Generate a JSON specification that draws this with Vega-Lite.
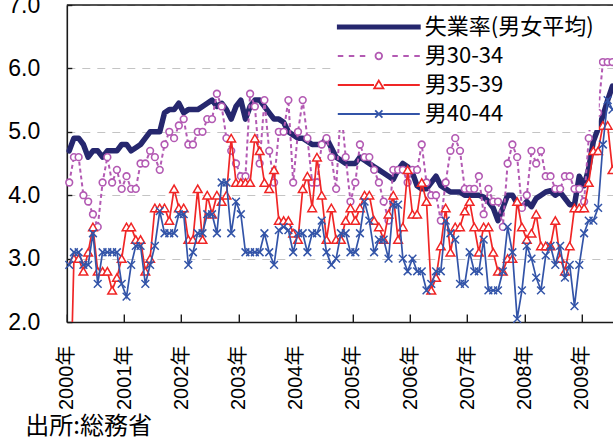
{
  "$schema": "https://vega.github.io/schema/vega-lite/v6.json",
  "width": 546.2,
  "height": 317,
  "autosize": {"type": "none"},
  "padding": {"left": 66.8, "top": 5, "right": 0, "bottom": 118},
  "background": "white",
  "title": {
    "text": "（図表）年代別の失業率の推移（男性）",
    "font": "Noto Sans CJK JP",
    "fontSize": 27,
    "fontWeight": "normal",
    "color": "black",
    "anchor": "middle",
    "frame": "group",
    "dx": 12,
    "offset": -18,
    "baseline": "alphabetic"
  },
  "config": {
    "view": {"stroke": null},
    "axis": {"domainColor": "#1a1a1a", "domainWidth": 1.6, "tickColor": "#1a1a1a", "tickWidth": 1.4, "labelColor": "black"}
  },
  "data": {
    "values": [
      {"d":"2000-01","u":4.7,"a":4.2,"b":0,"c":2.9},
      {"d":"2000-02","u":4.9,"a":4.6,"b":3.0,"c":3.1},
      {"d":"2000-03","u":4.9,"a":4.6,"b":3.0,"c":3.1},
      {"d":"2000-04","u":4.8,"a":4.0,"b":2.8,"c":2.9},
      {"d":"2000-05","u":4.6,"a":3.9,"b":3.1,"c":2.9},
      {"d":"2000-06","u":4.7,"a":3.7,"b":3.5,"c":3.4},
      {"d":"2000-07","u":4.7,"a":3.5,"b":2.8,"c":2.6},
      {"d":"2000-08","u":4.6,"a":4.2,"b":2.8,"c":3.1},
      {"d":"2000-09","u":4.7,"a":4.6,"b":2.8,"c":3.1},
      {"d":"2000-10","u":4.7,"a":4.2,"b":2.5,"c":3.1},
      {"d":"2000-11","u":4.7,"a":4.4,"b":2.7,"c":3.1},
      {"d":"2000-12","u":4.8,"a":4.1,"b":3.0,"c":2.6},
      {"d":"2001-01","u":4.8,"a":4.3,"b":3.5,"c":2.4},
      {"d":"2001-02","u":4.7,"a":4.1,"b":3.5,"c":2.9},
      {"d":"2001-03","u":4.75,"a":4.1,"b":3.3,"c":3.2},
      {"d":"2001-04","u":4.8,"a":4.5,"b":3.3,"c":3.2},
      {"d":"2001-05","u":4.9,"a":4.5,"b":2.8,"c":2.6},
      {"d":"2001-06","u":5.0,"a":4.7,"b":3.0,"c":2.9},
      {"d":"2001-07","u":5.0,"a":4.6,"b":3.8,"c":3.2},
      {"d":"2001-08","u":5.0,"a":4.4,"b":3.8,"c":3.75},
      {"d":"2001-09","u":5.3,"a":4.8,"b":3.8,"c":3.4},
      {"d":"2001-10","u":5.35,"a":5.0,"b":3.6,"c":3.4},
      {"d":"2001-11","u":5.35,"a":4.9,"b":4.1,"c":3.4},
      {"d":"2001-12","u":5.45,"a":5.1,"b":3.8,"c":3.7},
      {"d":"2002-01","u":5.3,"a":5.2,"b":3.8,"c":3.7},
      {"d":"2002-02","u":5.35,"a":4.8,"b":3.3,"c":2.9},
      {"d":"2002-03","u":5.35,"a":4.8,"b":3.3,"c":3.1},
      {"d":"2002-04","u":5.35,"a":5.0,"b":4.1,"c":3.4},
      {"d":"2002-05","u":5.4,"a":5.0,"b":3.3,"c":3.4},
      {"d":"2002-06","u":5.45,"a":5.2,"b":4.0,"c":3.7},
      {"d":"2002-07","u":5.5,"a":5.2,"b":3.7,"c":3.7},
      {"d":"2002-08","u":5.4,"a":5.6,"b":4.0,"c":3.4},
      {"d":"2002-09","u":5.45,"a":5.4,"b":3.9,"c":4.2},
      {"d":"2002-10","u":5.35,"a":4.9,"b":4.0,"c":4.2},
      {"d":"2002-11","u":5.2,"a":4.7,"b":4.9,"c":3.4},
      {"d":"2002-12","u":5.4,"a":4.5,"b":4.2,"c":3.9},
      {"d":"2003-01","u":5.5,"a":4.3,"b":4.2,"c":3.7},
      {"d":"2003-02","u":5.2,"a":4.3,"b":4.2,"c":3.1},
      {"d":"2003-03","u":5.4,"a":5.6,"b":4.2,"c":3.1},
      {"d":"2003-04","u":5.5,"a":5.4,"b":4.9,"c":3.1},
      {"d":"2003-05","u":5.5,"a":4.5,"b":4.7,"c":3.1},
      {"d":"2003-06","u":5.4,"a":5.5,"b":4.2,"c":3.4},
      {"d":"2003-07","u":5.3,"a":4.7,"b":4.1,"c":3.1},
      {"d":"2003-08","u":5.2,"a":4.2,"b":4.4,"c":2.9},
      {"d":"2003-09","u":5.2,"a":5.0,"b":3.6,"c":3.45},
      {"d":"2003-10","u":5.15,"a":5.0,"b":3.6,"c":3.5},
      {"d":"2003-11","u":5.0,"a":5.5,"b":3.6,"c":3.45},
      {"d":"2003-12","u":4.95,"a":4.2,"b":3.4,"c":3.1},
      {"d":"2004-01","u":4.9,"a":5.0,"b":3.3,"c":3.4},
      {"d":"2004-02","u":4.9,"a":5.5,"b":4.1,"c":3.4},
      {"d":"2004-03","u":4.85,"a":4.9,"b":4.3,"c":3.1},
      {"d":"2004-04","u":4.8,"a":4.2,"b":3.8,"c":3.4},
      {"d":"2004-05","u":4.8,"a":4.2,"b":4.6,"c":3.4},
      {"d":"2004-06","u":4.8,"a":4.8,"b":4.0,"c":3.6},
      {"d":"2004-07","u":4.9,"a":4.9,"b":3.3,"c":3.1},
      {"d":"2004-08","u":4.75,"a":4.6,"b":3.8,"c":2.9},
      {"d":"2004-09","u":4.6,"a":4.1,"b":3.3,"c":3.0},
      {"d":"2004-10","u":4.55,"a":5.4,"b":3.3,"c":3.4},
      {"d":"2004-11","u":4.5,"a":4.6,"b":3.6,"c":3.4},
      {"d":"2004-12","u":4.5,"a":3.9,"b":3.8,"c":3.1},
      {"d":"2005-01","u":4.5,"a":4.2,"b":3.6,"c":3.1},
      {"d":"2005-02","u":4.6,"a":4.8,"b":3.8,"c":3.4},
      {"d":"2005-03","u":4.55,"a":4.6,"b":4.0,"c":3.9},
      {"d":"2005-04","u":4.5,"a":4.6,"b":4.0,"c":3.6},
      {"d":"2005-05","u":4.45,"a":4.4,"b":3.6,"c":3.1},
      {"d":"2005-06","u":4.4,"a":4.2,"b":3.5,"c":3.3},
      {"d":"2005-07","u":4.35,"a":3.9,"b":3.3,"c":3.3},
      {"d":"2005-08","u":4.3,"a":3.6,"b":3.7,"c":3.0},
      {"d":"2005-09","u":4.25,"a":4.4,"b":4.0,"c":3.85},
      {"d":"2005-10","u":4.4,"a":4.4,"b":3.3,"c":3.85},
      {"d":"2005-11","u":4.5,"a":4.4,"b":3.5,"c":3.0},
      {"d":"2005-12","u":4.45,"a":4.2,"b":4.4,"c":2.8},
      {"d":"2006-01","u":4.35,"a":4.4,"b":3.7,"c":3.0},
      {"d":"2006-02","u":4.15,"a":4.4,"b":3.7,"c":2.8},
      {"d":"2006-03","u":4.1,"a":4.8,"b":4.2,"c":2.8},
      {"d":"2006-04","u":4.1,"a":4.2,"b":3.9,"c":2.5},
      {"d":"2006-05","u":4.2,"a":4.0,"b":2.5,"c":2.6},
      {"d":"2006-06","u":4.3,"a":4.0,"b":2.7,"c":2.8},
      {"d":"2006-07","u":4.15,"a":3.6,"b":3.2,"c":2.8},
      {"d":"2006-08","u":4.1,"a":4.2,"b":3.8,"c":3.6},
      {"d":"2006-09","u":4.05,"a":4.7,"b":3.1,"c":3.4},
      {"d":"2006-10","u":4.05,"a":4.9,"b":3.5,"c":3.3},
      {"d":"2006-11","u":4.05,"a":4.7,"b":3.5,"c":2.6},
      {"d":"2006-12","u":4.0,"a":4.1,"b":3.75,"c":2.6},
      {"d":"2007-01","u":4.0,"a":4.1,"b":3.9,"c":3.1},
      {"d":"2007-02","u":4.0,"a":4.1,"b":3.5,"c":2.8},
      {"d":"2007-03","u":4.0,"a":4.3,"b":3.1,"c":2.8},
      {"d":"2007-04","u":3.97,"a":3.7,"b":3.5,"c":3.3},
      {"d":"2007-05","u":3.9,"a":4.1,"b":3.5,"c":2.5},
      {"d":"2007-06","u":3.8,"a":3.9,"b":3.1,"c":2.5},
      {"d":"2007-07","u":3.6,"a":3.9,"b":2.8,"c":2.5},
      {"d":"2007-08","u":3.8,"a":3.5,"b":2.8,"c":2.8},
      {"d":"2007-09","u":4.0,"a":4.5,"b":3.0,"c":3.5},
      {"d":"2007-10","u":4.0,"a":4.8,"b":3.0,"c":3.1},
      {"d":"2007-11","u":3.87,"a":4.6,"b":3.9,"c":2.05},
      {"d":"2007-12","u":3.8,"a":3.8,"b":3.5,"c":2.5},
      {"d":"2008-01","u":3.9,"a":4.0,"b":3.3,"c":3.2},
      {"d":"2008-02","u":3.82,"a":4.7,"b":3.4,"c":3.0},
      {"d":"2008-03","u":3.95,"a":4.5,"b":3.7,"c":2.7},
      {"d":"2008-04","u":4.0,"a":4.7,"b":3.2,"c":2.5},
      {"d":"2008-05","u":4.05,"a":4.3,"b":3.2,"c":3.05},
      {"d":"2008-06","u":4.07,"a":4.3,"b":3.2,"c":3.2},
      {"d":"2008-07","u":4.0,"a":4.1,"b":3.6,"c":2.9},
      {"d":"2008-08","u":4.05,"a":4.1,"b":3.0,"c":3.2},
      {"d":"2008-09","u":3.95,"a":4.3,"b":2.8,"c":2.7},
      {"d":"2008-10","u":3.85,"a":4.3,"b":3.2,"c":2.9},
      {"d":"2008-11","u":3.85,"a":4.1,"b":3.8,"c":2.25},
      {"d":"2008-12","u":4.3,"a":4.1,"b":3.8,"c":2.9},
      {"d":"2009-01","u":4.15,"a":3.9,"b":3.8,"c":3.4},
      {"d":"2009-02","u":4.42,"a":4.9,"b":4.2,"c":3.6},
      {"d":"2009-03","u":4.85,"a":5.6,"b":4.7,"c":3.6},
      {"d":"2009-04","u":5.05,"a":5.3,"b":4.7,"c":3.8},
      {"d":"2009-05","u":5.25,"a":6.1,"b":5.1,"c":4.8},
      {"d":"2009-06","u":5.5,"a":6.1,"b":5.1,"c":5.5},
      {"d":"2009-07","u":5.72,"a":6.1,"b":4.4,"c":5.35}
    ]
  },
  "layer": [
    {
      "encoding": {
        "x": {
          "field": "d",
          "type": "temporal",
          "timeUnit": "utcyearmonth",
          "bandPosition": 0.5,
          "scale": {
            "domain": [{"year": 2000, "month": 1, "date": 1, "utc": true}, {"year": 2009, "month": 7, "date": 20, "utc": true}],
            "nice": false
          },
          "axis": {
            "values": [
              {"year": 2000, "month": 1, "date": 1, "utc": true},
              {"year": 2001, "month": 1, "date": 1, "utc": true},
              {"year": 2002, "month": 1, "date": 1, "utc": true},
              {"year": 2003, "month": 1, "date": 1, "utc": true},
              {"year": 2004, "month": 1, "date": 1, "utc": true},
              {"year": 2005, "month": 1, "date": 1, "utc": true},
              {"year": 2006, "month": 1, "date": 1, "utc": true},
              {"year": 2007, "month": 1, "date": 1, "utc": true},
              {"year": 2008, "month": 1, "date": 1, "utc": true},
              {"year": 2009, "month": 1, "date": 1, "utc": true}
            ],
            "labelExpr": "utcFormat(datum.value, '%Y') + '年'",
            "labelAngle": 270,
            "labelAlign": "right",
            "labelBaseline": "middle",
            "labelFont": "Liberation Sans, Noto Sans CJK JP",
            "labelFontSize": 20,
            "labelPadding": 31,
            "labelFlush": false,
            "labelOverlap": false,
            "tickSize": -8,
            "grid": false,
            "title": "出所:総務省",
            "titleFont": "Noto Sans CJK JP",
            "titleFontSize": 24,
            "titleFontWeight": "normal",
            "titleColor": "black",
            "titleAnchor": "start",
            "titleAlign": "left",
            "titleBaseline": "alphabetic",
            "titleAngle": 0,
            "titleX": -42,
            "titleY": 111
          }
        }
      },
      "layer": [
        {
          "mark": {"type": "line", "strokeWidth": 5.5, "strokeJoin": "round", "strokeCap": "round"},
          "encoding": {
            "y": {
              "field": "u",
              "type": "quantitative",
              "scale": {"domain": [2, 7], "nice": false, "zero": false},
              "axis": {
                "values": [2, 3, 4, 5, 6, 7],
                "format": ".1f",
                "title": null,
                "labelFont": "Liberation Sans",
                "labelFontSize": 23,
                "labelPadding": 32,
                "tickSize": -5,
                "grid": true,
                "gridColor": "#c4c4c4",
                "gridDash": [8, 7],
                "gridWidth": 1.2
              }
            },
            "color": {
              "datum": "失業率(男女平均)",
              "type": "nominal",
              "scale": {
                "domain": ["失業率(男女平均)", "男30-34", "男35-39", "男40-44"],
                "range": ["#26276e", "#b35ab3", "#f02626", "#3354a8"]
              },
              "legend": {
                "orient": "none",
                "legendX": 266,
                "legendY": 6,
                "title": null,
                "fillColor": "white",
                "padding": 5,
                "symbolSize": 400,
                "symbolStrokeWidth": 1.8,
                "symbolOffset": 30,
                "labelOffset": 35,
                "rowPadding": 7,
                "labelFont": "Noto Sans CJK JP",
                "labelFontSize": 22,
                "labelColor": "black",
                "labelLimit": 300,
                "encode": {
                  "symbols": {
                    "update": {
                      "shape": {"signal": "datum.value === '失業率(男女平均)' ? 'M-4.1,-0.16H4.1V0.16H-4.1Z' : datum.value === '男30-34' ? 'M-4.1,0H-3.55M-3,0H-2.45M-1.9,0H-1.35M1.35,0H1.9M2.45,0H3M3.55,0H4.1M0.33,0A0.33 0.33 0 1 1 -0.33,0A0.33 0.33 0 1 1 0.33,0Z' : datum.value === '男35-39' ? 'M-4.1,0H-0.48M0.48,0H4.1M0,-0.44L0.46,0.34L-0.46,0.34Z' : 'M-4.1,0H4.1M-0.36,-0.36L0.36,0.36M-0.36,0.36L0.36,-0.36'"},
                      "fill": {"signal": "datum.value === '失業率(男女平均)' ? '#26276e' : 'white'"},
                      "stroke": {"signal": "scale('color', datum.value)"},
                      "strokeWidth": {"value": 1.8},
                      "strokeDash": {"value": []},
                      "opacity": {"value": 1}
                    }
                  }
                }
              }
            }
          }
        },
        {
          "mark": {"type": "line", "strokeWidth": 2, "strokeDash": [4, 3]},
          "encoding": {
            "y": {"field": "a", "type": "quantitative"},
            "color": {"datum": "男30-34", "type": "nominal"}
          }
        },
        {
          "mark": {"type": "point", "shape": "circle", "fill": "white", "stroke": "#b35ab3", "strokeWidth": 1.6, "size": 45, "opacity": 1},
          "encoding": {
            "y": {"field": "a", "type": "quantitative"}
          }
        },
        {
          "mark": {"type": "line", "strokeWidth": 1.7, "clip": true},
          "encoding": {
            "y": {"field": "b", "type": "quantitative"},
            "color": {"datum": "男35-39", "type": "nominal"}
          }
        },
        {
          "mark": {"type": "point", "shape": "triangle-up", "fill": "white", "stroke": "#f02626", "strokeWidth": 1.5, "size": 75, "opacity": 1, "clip": true},
          "encoding": {
            "y": {"field": "b", "type": "quantitative"}
          }
        },
        {
          "mark": {"type": "line", "strokeWidth": 1.7},
          "encoding": {
            "y": {"field": "c", "type": "quantitative"},
            "color": {"datum": "男40-44", "type": "nominal"}
          }
        },
        {
          "mark": {"type": "point", "shape": "M-1,-1L1,1M-1,1L1,-1", "filled": false, "stroke": "#3354a8", "strokeWidth": 1.5, "size": 60, "opacity": 1},
          "encoding": {
            "y": {"field": "c", "type": "quantitative"}
          }
        }
      ]
    },
    {
      "data": {"values": [{}]},
      "mark": {"type": "rule", "color": "#1a1a1a", "strokeWidth": 1.6},
      "encoding": {"y": {"datum": 7, "type": "quantitative"}}
    }
  ]
}
